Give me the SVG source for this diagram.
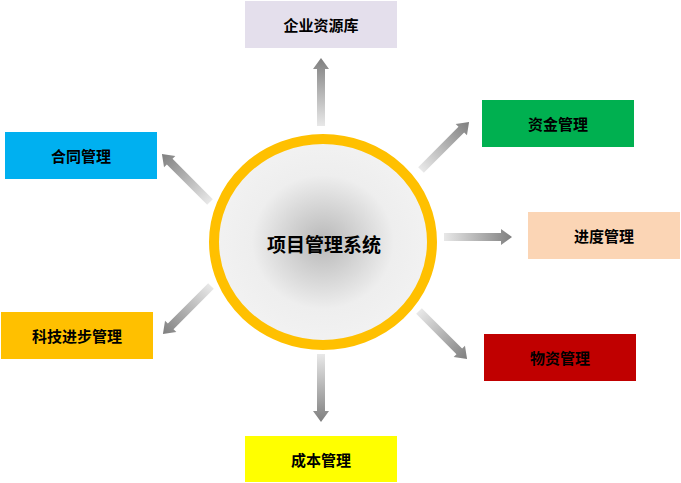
<svg xmlns="http://www.w3.org/2000/svg" xmlns:xlink="http://www.w3.org/1999/xlink" width="681" height="483" viewBox="0 0 681 483">
  <style>
    .box text { font-family: "Noto Sans CJK SC", "Liberation Sans", sans-serif; font-size: 15px; font-weight: bold; fill: #000; text-anchor: middle; dominant-baseline: central; }
    .center { font-family: "Noto Sans CJK SC", "Liberation Sans", sans-serif; font-size: 19px; font-weight: bold; fill: #000; text-anchor: middle; dominant-baseline: central; }
  </style>
  <defs>
    <linearGradient id="ag" x1="0" y1="0" x2="1" y2="0">
      <stop offset="0" stop-color="#e8e8e8"/>
      <stop offset="1" stop-color="#7f7f7f"/>
    </linearGradient>
    <radialGradient id="cg" cx="0.5" cy="0.5" r="0.5">
      <stop offset="0" stop-color="#b8b8b8"/>
      <stop offset="0.65" stop-color="#eeeeee"/>
      <stop offset="1" stop-color="#f2f2f2"/>
    </radialGradient>
    <path id="arr" d="M0,-4 H57 V-8 L68,0 L57,8 V4 H0 Z" fill="url(#ag)"/>
  </defs>
  <rect width="681" height="483" fill="#ffffff"/>

  <g id="connectors">
    <use xlink:href="#arr" transform="translate(321,126) rotate(-90)"/>
    <use xlink:href="#arr" transform="translate(321,354) rotate(90)"/>
    <use xlink:href="#arr" transform="translate(444,237)"/>
    <use xlink:href="#arr" transform="translate(421,170) rotate(-45)"/>
    <use xlink:href="#arr" transform="translate(210,202) rotate(-135)"/>
    <use xlink:href="#arr" transform="translate(211,286) rotate(135)"/>
    <use xlink:href="#arr" transform="translate(419,311) rotate(45)"/>
  </g>

  <g id="center-node">
    <ellipse cx="323" cy="242" rx="109" ry="103" fill="url(#cg)" stroke="#ffc000" stroke-width="10"/>
    <text class="center" x="324" y="243">项目管理系统</text>
  </g>

  <g id="node-erp" class="box">
    <rect x="245" y="1" width="152" height="47" fill="#e4dfec"/>
    <text x="321" y="24.5">企业资源库</text>
  </g>
  <g id="node-contract" class="box">
    <rect x="5" y="132" width="152" height="47" fill="#00b0f0"/>
    <text x="81" y="155.5">合同管理</text>
  </g>
  <g id="node-fund" class="box">
    <rect x="482" y="100" width="152" height="47" fill="#00b050"/>
    <text x="558" y="123.5">资金管理</text>
  </g>
  <g id="node-schedule" class="box">
    <rect x="528" y="212" width="152" height="47" fill="#fbd5b5"/>
    <text x="604" y="235.5">进度管理</text>
  </g>
  <g id="node-tech" class="box">
    <rect x="1" y="312" width="152" height="47" fill="#ffc000"/>
    <text x="77" y="335.5">科技进步管理</text>
  </g>
  <g id="node-material" class="box">
    <rect x="484" y="334" width="152" height="47" fill="#c00000"/>
    <text x="560" y="357.5">物资管理</text>
  </g>
  <g id="node-cost" class="box">
    <rect x="245" y="436" width="152" height="46" fill="#ffff00"/>
    <text x="321" y="459">成本管理</text>
  </g>
</svg>
